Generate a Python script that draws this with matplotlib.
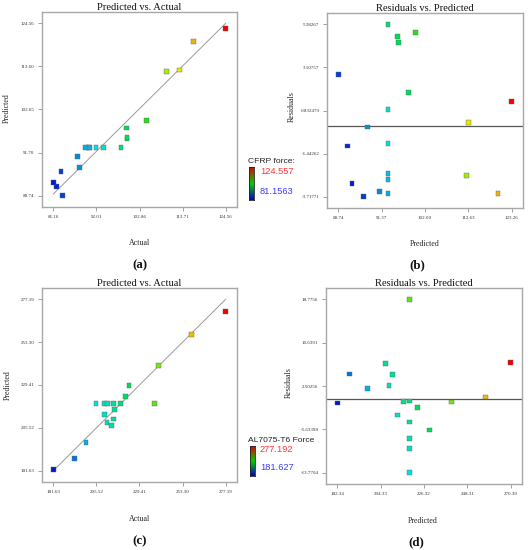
import matplotlib
matplotlib.use("Agg")
import numpy as np
import matplotlib.pyplot as plt
from matplotlib.colors import LinearSegmentedColormap, Normalize

# ---------------- data ----------------
# CFRP force (panels a, b)
cfrp_actual = [83.43, 81.92, 81.16, 83.09, 87.30, 87.80, 98.2, 93.7, 91.9, 90.3, 90.0, 89.3,
               99.72, 99.73, 99.67, 104.55, 109.67, 112.96, 116.49, 124.56]
cfrp_predicted = [80.74, 82.96, 84.05, 86.85, 90.73, 87.93, 92.92, 92.92, 92.92, 92.92, 92.92, 92.92,
                  95.16, 95.50, 97.96, 99.76, 112.25, 112.70, 119.94, 123.26]
cfrp_residual = [2.74, -1.04, -3.01, -3.72, -3.45, -0.04, 5.38, 0.90, -0.90, -2.49, -2.80, -3.54,
                 4.75, 4.43, 1.79, 4.96, -2.61, 0.21, -3.54, 1.32]
cfrp_range = [81.1563, 124.557]

# AL7075-T6 force (panels c, d)
al_actual = [181.63, 193.18, 199.70, 205.29, 209.94, 211.62, 214.79, 218.89, 237.70, 210.13,
             211.43, 213.86, 215.16, 215.53, 221.50, 223.54, 239.94, 258.19, 277.19]
al_predicted = [182.34, 188.31, 197.55, 218.87, 218.87, 218.87, 218.87, 218.87, 218.87, 213.02,
                208.57, 206.96, 210.43, 215.94, 223.05, 229.27, 240.43, 257.66, 270.30]
al_residual = [-0.69, 4.755, 2.064, -13.77, -9.26, -7.32, -4.26, -0.314, 18.7756, -2.94,
               2.627, 6.758, 4.692, -0.44, -1.57, -5.76, -0.50, 0.437, 6.883]
al_range = [181.627, 277.192]

# tick labels
a_xticks = ["81.16", "92.01", "102.86", "113.71", "124.56"]
a_yticks = ["80.74", "91.70", "102.65", "113.60", "124.56"]
b_xticks = ["80.74", "91.37", "102.00", "112.63", "123.26"]
b_yticks = ["-3.71771", "-1.44262", "0.832479", "3.10757", "5.38267"]
c_xticks = ["181.63", "205.52", "229.41", "253.30", "277.19"]
c_yticks = ["181.63", "205.52", "229.41", "253.30", "277.19"]
d_xticks = ["182.34", "204.33", "226.32", "248.31", "270.30"]
d_yticks = ["-13.7704", "-5.63398", "2.50256", "10.6391", "18.7756"]

# ---------------- style ----------------
SERIF = "Liberation Serif"
SANS = "Liberation Sans"
W, H = 528, 550

cmap = LinearSegmentedColormap.from_list(
    "de", [(0.0, "#0018d8"), (0.25, "#00e0e8"), (0.5, "#00dc20"),
           (0.72, "#e8f000"), (0.85, "#f0a000"), (1.0, "#f00000")])
bar_cmap = LinearSegmentedColormap.from_list(
    "bar", [(0.0, "#0000c8"), (0.5, "#00d000"), (1.0, "#e00000")])

fig = plt.figure(figsize=(W / 100, H / 100), dpi=100)
fig.patch.set_facecolor("white")


def px_axes(l, t, r, b):
    return fig.add_axes([l / W, 1 - b / H, (r - l) / W, (b - t) / H])


def style(ax, xt, yt, title, pad=0.066):
    xv = [float(v) for v in xt]
    yv = [float(v) for v in yt]
    dx = (xv[-1] - xv[0]) * pad
    dy = (yv[-1] - yv[0]) * pad
    ax.set_xlim(xv[0] - dx, xv[-1] + dx)
    ax.set_ylim(yv[0] - dy, yv[-1] + dy)
    ax.set_xticks(xv)
    ax.set_xticklabels(xt)
    ax.set_yticks(yv)
    ax.set_yticklabels(yt)
    for s in ax.spines.values():
        s.set_color("#a8a8a8")
        s.set_linewidth(1.0)
    ax.tick_params(direction="out", length=3, width=0.6, color="#909090",
                   labelsize=3.6, labelcolor="#333333", pad=2.5)
    for lab in ax.get_xticklabels() + ax.get_yticklabels():
        lab.set_fontfamily(SERIF)
    ax.set_title(title, fontsize=7.6, fontfamily=SERIF, pad=1.5, color="#111111")


def ftext(x, y, s, **kw):
    fig.text(x / W, 1 - y / H, s, ha="center", va="center", **kw)


def colorbar(l, t, r, b, title, vmin, vmax, title_xy, max_xy, min_xy):
    cax = px_axes(l, t, r, b)
    grad = np.linspace(1, 0, 256).reshape(-1, 1)
    cax.imshow(grad, aspect="auto", cmap=bar_cmap, extent=[0, 1, 0, 1])
    cax.set_xticks([])
    cax.set_yticks([])
    for s in cax.spines.values():
        s.set_color("#222222")
        s.set_linewidth(0.6)
    fig.text(title_xy[0] / W, 1 - title_xy[1] / H, title, ha="left", va="center",
             fontsize=6.1, fontfamily=SANS, color="#222222")
    fig.text(max_xy[0] / W, 1 - max_xy[1] / H, f"{vmax}", ha="left", va="center",
             fontsize=6.7, fontfamily=SANS, color="#ff3535")
    fig.text(min_xy[0] / W, 1 - min_xy[1] / H, f"{vmin}", ha="left", va="center",
             fontsize=6.7, fontfamily=SANS, color="#3c3cff")


# ---------------- panel a ----------------
norm1 = Normalize(cfrp_range[0], cfrp_range[1])
axa = px_axes(42, 12, 237, 207)
style(axa, a_xticks, a_yticks, "Predicted vs. Actual")
lo, hi = float(a_xticks[0]), float(a_xticks[-1])
axa.plot([lo, hi], [lo, hi], color="#9a9a9a", lw=0.7, zorder=1)
axa.scatter(cfrp_actual, cfrp_predicted, c=cmap(norm1(cfrp_actual)), marker="s", s=12,
            edgecolors="#666666", linewidths=0.3, zorder=3)

# ---------------- panel b ----------------
axb = px_axes(327, 13, 523, 208)
style(axb, b_xticks, b_yticks, "Residuals vs. Predicted")
axb.axhline(0, color="#555555", lw=0.9, zorder=1)
axb.scatter(cfrp_predicted, cfrp_residual, c=cmap(norm1(cfrp_actual)), marker="s", s=12,
            edgecolors="#666666", linewidths=0.3, zorder=3)

# ---------------- panel c ----------------
norm2 = Normalize(al_range[0], al_range[1])
axc = px_axes(42, 288, 237, 482)
style(axc, c_xticks, c_yticks, "Predicted vs. Actual")
lo, hi = float(c_xticks[0]), float(c_xticks[-1])
axc.plot([lo, hi], [lo, hi], color="#9a9a9a", lw=0.7, zorder=1)
axc.scatter(al_actual, al_predicted, c=cmap(norm2(al_actual)), marker="s", s=12,
            edgecolors="#666666", linewidths=0.3, zorder=3)

# ---------------- panel d ----------------
axd = px_axes(326, 288, 522, 484)
style(axd, d_xticks, d_yticks, "Residuals vs. Predicted")
axd.axhline(0, color="#555555", lw=0.9, zorder=1)
axd.scatter(al_predicted, al_residual, c=cmap(norm2(al_actual)), marker="s", s=12,
            edgecolors="#666666", linewidths=0.3, zorder=3)

# ---------------- axis labels ----------------
lab = dict(fontsize=5.7, fontfamily=SERIF, color="#222222")
ftext(140, 243, "Actual", **lab)
ftext(7, 108, "Predicted", rotation=90, **lab)
ftext(425, 244, "Predicted", **lab)
ftext(292, 107, "Residuals", rotation=90, **lab)
ftext(140, 519, "Actual", **lab)
ftext(8, 385, "Predicted", rotation=90, **lab)
ftext(423, 521, "Predicted", **lab)
ftext(289, 383, "Residuals", rotation=90, **lab)

# ---------------- panel letters ----------------
let = dict(fontsize=9.3, fontfamily=SERIF, fontweight="bold", color="#111111")
ftext(140, 265, "(a)", **let)
ftext(417, 265, "(b)", **let)
ftext(140, 541, "(c)", **let)
ftext(416, 542, "(d)", **let)

# ---------------- colour legends ----------------
colorbar(249, 167, 254, 200, "CFRP force:", cfrp_range[0], cfrp_range[1],
         (248, 161.5), (260, 171), (260, 191.5))
colorbar(250, 446, 255, 476, "AL7075-T6 Force", al_range[0], al_range[1],
         (248, 440.5), (260, 450), (260, 468))

fig.savefig("out.png", dpi=100, facecolor="white")
